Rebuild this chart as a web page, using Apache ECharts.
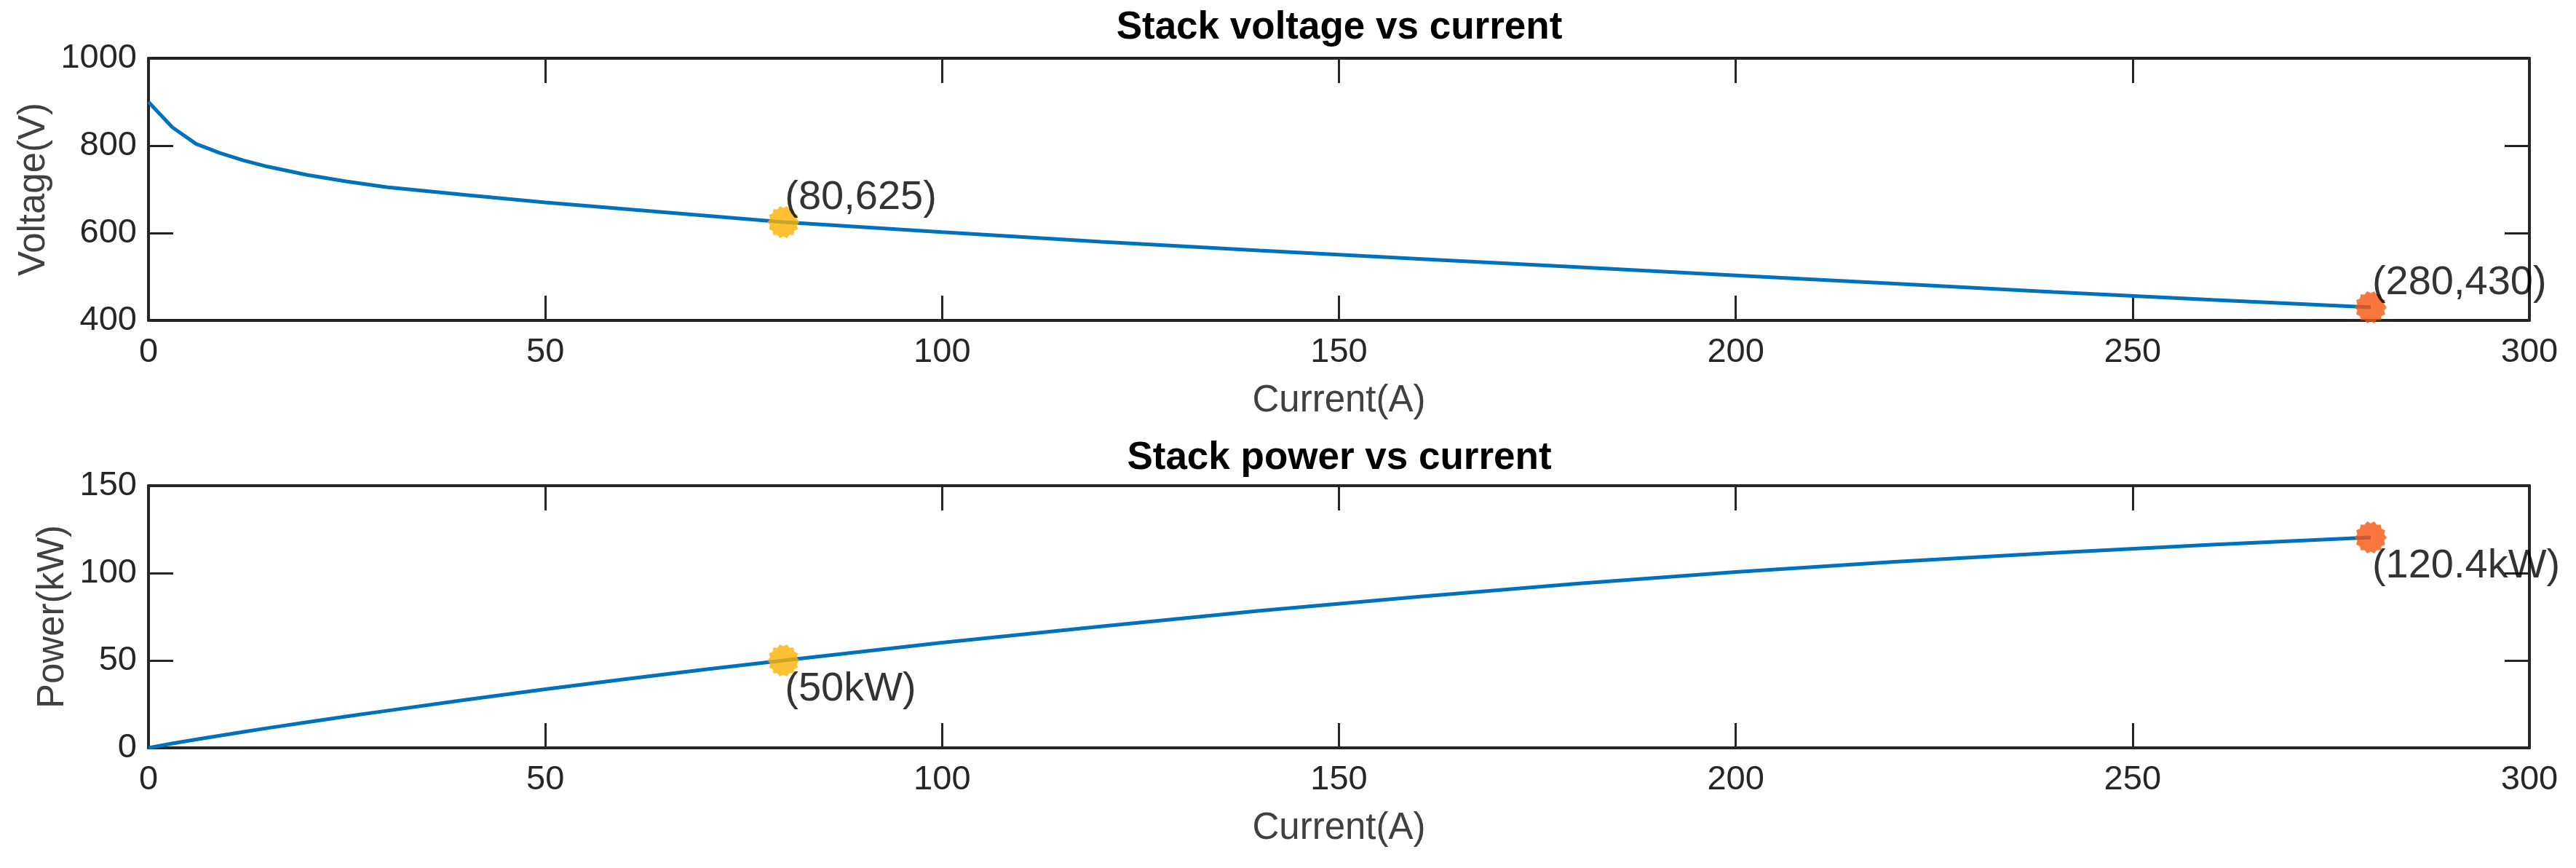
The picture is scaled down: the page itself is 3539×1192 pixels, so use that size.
<!DOCTYPE html>
<html><head><meta charset="utf-8">
<script src="https://cdn.jsdelivr.net/npm/echarts@6/dist/echarts.min.js"></script>
<style>html,body{margin:0;padding:0;background:#fff}#c{width:3539px;height:1192px}</style>
</head><body><div id="c"></div>
<script>
// ---- data ----
const currentA = [0,3,6,9,12,15,20,25,30,40,50,60,70,80,100,120,140,160,180,200,220,240,260,280];
const voltageV = [900,842,804,783,766,752,733,718,705,687,670,655,640,625,602,580,560,541,522,503,484,465,447,430];
const powerKW  = [0,2.5,4.8,7.0,9.2,11.3,14.7,18.0,21.2,27.5,33.5,39.3,44.8,50,60.2,69.5,78.4,86.5,94.0,100.6,106.5,111.6,116.2,120.4];

const markCurrent = [80, 280];
const markVoltage = [625, 430];
const markPower   = [50, 120.4];
const voltLabels  = ['(80,625)', '(280,430)'];
const powerLabels = ['(50kW)', '(120.4kW)'];
const markColors  = ['#FFB000', '#F8540E'];

const xTicks      = [0,50,100,150,200,250,300];
const voltTicks   = [400,600,800,1000];
const powerTicks  = [0,50,100,150];

const titles = ['Stack voltage vs current', 'Stack power vs current'];
const xName = 'Current(A)';
const yNames = ['Voltage(V)', 'Power(kW)'];

// ---- styling ----
const FONT = "'Liberation Sans', Arial, Helvetica, sans-serif";
const AX = '#262626';
function starPath(n, rIn) {
  let d = '';
  for (let i = 0; i < 2 * n; i++) {
    const r = i % 2 === 0 ? 1 : rIn;
    const a = Math.PI * i / n;
    const px = (50 + 50 * r * Math.cos(a)).toFixed(2), py = (50 + 50 * r * Math.sin(a)).toFixed(2);
    d += (i === 0 ? 'M' : 'L') + px + ' ' + py + ' ';
  }
  return 'path://' + d + 'Z';
}
const STAR = starPath(14, 0.86);

function step(arr){ return arr[1]-arr[0]; }
const plain = v => String(v);

function xAx(grid, pos, withLabel) {
  return {
    type: 'value', gridIndex: grid, position: pos,
    min: xTicks[0], max: xTicks[xTicks.length-1], interval: step(xTicks),
    axisLine: { show: true, onZero: false, lineStyle: { color: AX, width: 4 } },
    axisTick: { show: true, inside: true, length: 34, lineStyle: { color: AX, width: 3 } },
    axisLabel: { show: withLabel, margin: 21, fontSize: 47, color: AX, fontFamily: FONT, showMinLabel: true, showMaxLabel: true, formatter: plain },
    splitLine: { show: false },
    name: withLabel ? xName : '', nameLocation: 'middle', nameGap: 85,
    nameTextStyle: { fontSize: 51, color: '#404040', fontFamily: FONT }
  };
}
function yAx(grid, pos, withLabel, ticks, name, gap) {
  return {
    type: 'value', gridIndex: grid, position: pos,
    min: ticks[0], max: ticks[ticks.length-1], interval: step(ticks),
    axisLine: { show: true, onZero: false, lineStyle: { color: AX, width: 4 } },
    axisTick: { show: true, inside: true, length: 34, lineStyle: { color: AX, width: 3 } },
    axisLabel: { show: withLabel, margin: 16, fontSize: 47, color: AX, fontFamily: FONT, showMinLabel: true, showMaxLabel: true, formatter: plain },
    splitLine: { show: false },
    name: withLabel ? name : '', nameLocation: 'middle', nameGap: gap,
    nameTextStyle: { fontSize: 51, color: '#404040', fontFamily: FONT }
  };
}

function marks(yVals, labels, above) {
  return markCurrent.map((x, i) => ({
    value: [x, yVals[i]],
    itemStyle: { color: markColors[i] },
    label: {
      show: true, formatter: labels[i], position: above ? [24, -11] : [24, 62],
      align: 'left', verticalAlign: 'middle', fontSize: 56, color: '#000', fontFamily: FONT
    }
  }));
}

const chart = echarts.init(document.getElementById('c'), null, { renderer: 'canvas' });
chart.setOption({
  animation: false,
  backgroundColor: '#fff',
  grid: [
    { left: 204, right: 64, top: 80, height: 360, containLabel: false },
    { left: 204, right: 64, top: 667, height: 360, containLabel: false }
  ],
  xAxis: [ xAx(0,'bottom',true), xAx(0,'top',false), xAx(1,'bottom',true), xAx(1,'top',false) ],
  yAxis: [
    yAx(0,'left',true,voltTicks,yNames[0],128), yAx(0,'right',false,voltTicks,'',0),
    yAx(1,'left',true,powerTicks,yNames[1],100), yAx(1,'right',false,powerTicks,'',0)
  ],
  graphic: [
    { type: 'text', x: 1840, y: 38, style: { text: titles[0], font: "bold 53px " + FONT, fill: '#000', textAlign: 'center', textVerticalAlign: 'middle', align: 'center', verticalAlign: 'middle' } },
    { type: 'text', x: 1840, y: 629, style: { text: titles[1], font: "bold 53px " + FONT, fill: '#000', textAlign: 'center', textVerticalAlign: 'middle', align: 'center', verticalAlign: 'middle' } }
  ],
  series: [
    { type: 'line', xAxisIndex: 0, yAxisIndex: 0, data: currentA.map((x,i)=>[x, voltageV[i]]),
      showSymbol: false, lineStyle: { color: '#0072BD', width: 5 }, itemStyle: { color: '#0072BD' }, z: 2 },
    { type: 'scatter', xAxisIndex: 0, yAxisIndex: 0, symbol: STAR, symbolSize: 44, data: marks(markVoltage, voltLabels, true), z: 3 },
    { type: 'line', xAxisIndex: 2, yAxisIndex: 2, data: currentA.map((x,i)=>[x, powerKW[i]]),
      showSymbol: false, lineStyle: { color: '#0072BD', width: 5 }, itemStyle: { color: '#0072BD' }, z: 2 },
    { type: 'scatter', xAxisIndex: 2, yAxisIndex: 2, symbol: STAR, symbolSize: 44, data: marks(markPower, powerLabels, false), z: 3 }
  ]
});
</script>
</body></html>
